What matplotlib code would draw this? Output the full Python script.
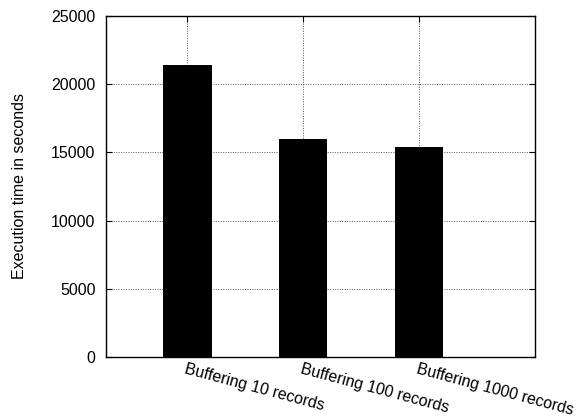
import matplotlib
matplotlib.use('Agg')
import matplotlib.pyplot as plt
import numpy

# Data
labels = ['Buffering 10 records', 'Buffering 100 records', 'Buffering 1000 records']
exec_time = [21400, 16000, 15400]
yticks = [0, 5000, 10000, 15000, 20000, 25000]

plt.rcParams['font.family'] = ['Liberation Sans', 'DejaVu Sans']
FS = 11.5

fig = plt.figure(figsize=(5.79, 4.17), dpi=100)
ax = fig.add_axes([106 / 579, 1 - 357 / 417, 429 / 579, 341 / 417])

x = numpy.arange(len(labels))
ax.bar(x, exec_time, width=0.42, color='black', zorder=3)

ax.set_xlim(-0.7, 3.0)
ax.set_ylim(0, 25000)
ax.set_yticks(yticks)
ax.set_xticks(x)
ax.set_xticklabels(labels, rotation=-15, ha='left', va='top',
                   rotation_mode='anchor', fontsize=FS)
ax.tick_params(axis='y', labelsize=FS, direction='in', length=4,
               right=True, pad=7.5)
ax.tick_params(axis='x', direction='in', length=4, top=True, pad=3)

ax.grid(True, linestyle=(0, (1, 1.5)), color='#555555', linewidth=0.7, zorder=0)
for sp in ax.spines.values():
    sp.set_linewidth(1.0)
    sp.set_zorder(4)

fig.text(19 / 579, 1 - 186 / 417, 'Execution time in seconds', fontsize=FS,
         rotation=90, ha='center', va='center')

fig.savefig('out.png', dpi=100)
